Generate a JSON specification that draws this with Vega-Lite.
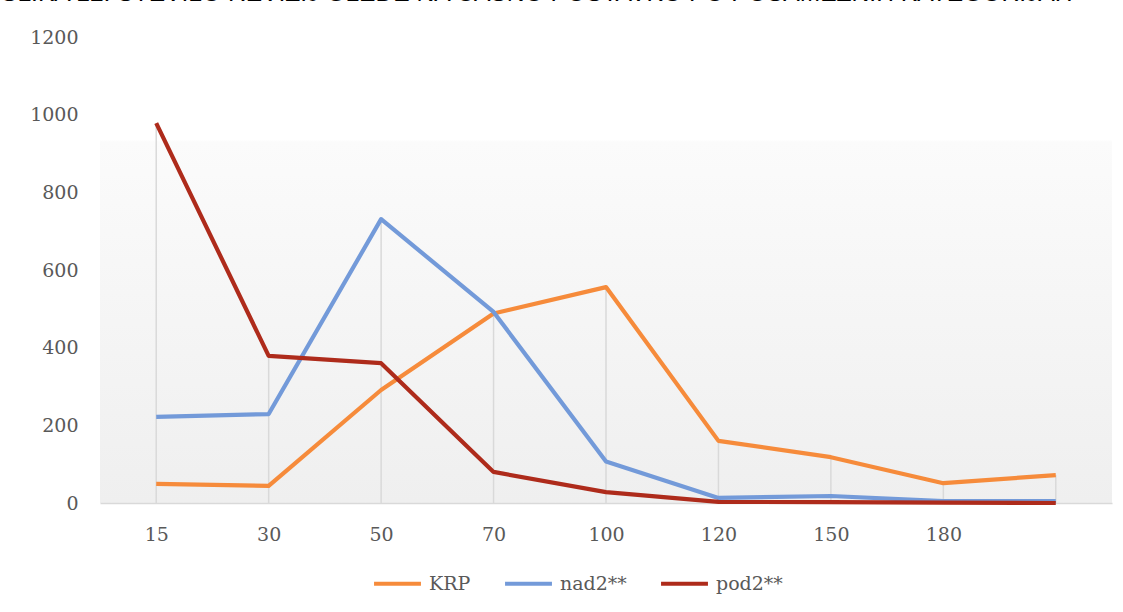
{
  "$schema": "https://vega.github.io/schema/vega-lite/v6.json",
  "autosize": "none",
  "width": 1012,
  "height": 466,
  "padding": {"left": 100, "top": 37, "right": 11, "bottom": 109},
  "background": "white",
  "title": {
    "text": "SLIKA 12: ŠTEVILO REVIZIJ GLEDE NA ČASNO POSTAVKO PO POSAMEZNIH KATEGORIJAH",
    "anchor": "start",
    "frame": "group",
    "font": "Liberation Sans",
    "fontSize": 24.6,
    "fontWeight": "normal",
    "color": "#000000",
    "baseline": "alphabetic",
    "offset": 0,
    "dx": -99,
    "dy": -2
  },
  "data": {
    "values": [
      {"k": "15", "s": "KRP", "v": 49},
      {"k": "30", "s": "KRP", "v": 44},
      {"k": "50", "s": "KRP", "v": 291},
      {"k": "70", "s": "KRP", "v": 488},
      {"k": "100", "s": "KRP", "v": 556},
      {"k": "120", "s": "KRP", "v": 160},
      {"k": "150", "s": "KRP", "v": 118},
      {"k": "180", "s": "KRP", "v": 51},
      {"k": " ", "s": "KRP", "v": 72},
      {"k": "15", "s": "nad2**", "v": 222},
      {"k": "30", "s": "nad2**", "v": 229},
      {"k": "50", "s": "nad2**", "v": 731},
      {"k": "70", "s": "nad2**", "v": 492},
      {"k": "100", "s": "nad2**", "v": 107},
      {"k": "120", "s": "nad2**", "v": 13},
      {"k": "150", "s": "nad2**", "v": 18},
      {"k": "180", "s": "nad2**", "v": 5},
      {"k": " ", "s": "nad2**", "v": 5},
      {"k": "15", "s": "pod2**", "v": 978},
      {"k": "30", "s": "pod2**", "v": 379},
      {"k": "50", "s": "pod2**", "v": 360},
      {"k": "70", "s": "pod2**", "v": 80},
      {"k": "100", "s": "pod2**", "v": 28},
      {"k": "120", "s": "pod2**", "v": 3},
      {"k": "150", "s": "pod2**", "v": 2},
      {"k": "180", "s": "pod2**", "v": 1},
      {"k": " ", "s": "pod2**", "v": 0}
    ]
  },
  "encoding": {
    "x": {
      "field": "k",
      "type": "nominal",
      "sort": null,
      "scale": {"type": "point", "padding": 0.5},
      "axis": {
        "title": null,
        "labelAngle": 0,
        "ticks": false,
        "domainColor": "#d9d9d9",
        "domainWidth": 1.5,
        "labelPadding": 22,
        "grid": false
      }
    }
  },
  "layer": [
    {
      "transform": [
        {"aggregate": [{"op": "max", "field": "v", "as": "top"}], "groupby": ["k"]}
      ],
      "mark": {"type": "rule", "color": "#d9d9d9", "strokeWidth": 1.5},
      "encoding": {
        "y": {"field": "top", "type": "quantitative"},
        "y2": {"datum": 0}
      }
    },
    {
      "mark": {"type": "line", "strokeWidth": 4.2, "strokeJoin": "round", "strokeCap": "butt"},
      "encoding": {
        "y": {
          "field": "v",
          "type": "quantitative",
          "scale": {"domain": [0, 1200], "nice": false},
          "axis": {
            "title": null,
            "values": [0, 200, 400, 600, 800, 1000, 1200],
            "format": "d",
            "domain": false,
            "ticks": false,
            "grid": false,
            "labelPadding": 22
          }
        },
        "color": {
          "field": "s",
          "type": "nominal",
          "scale": {
            "domain": ["KRP", "nad2**", "pod2**"],
            "range": ["#f68b3b", "#739ad9", "#ae2b1b"]
          },
          "legend": {
            "title": null,
            "orient": "none",
            "direction": "horizontal",
            "legendX": 272,
            "legendY": 521,
            "symbolType": "stroke",
            "symbolSize": 2200,
            "symbolStrokeWidth": 4,
            "labelOffset": 6,
            "columnPadding": 26
          }
        }
      }
    }
  ],
  "config": {
    "view": {
      "stroke": null,
      "fill": {
        "gradient": "linear",
        "x1": 0, "y1": 0, "x2": 0, "y2": 1,
        "stops": [
          {"offset": 0, "color": "#ffffff"},
          {"offset": 0.22, "color": "#ffffff"},
          {"offset": 0.225, "color": "#fbfbfb"},
          {"offset": 1, "color": "#efefef"}
        ]
      }
    },
    "axis": {
      "labelFont": "DejaVu Serif",
      "labelFontSize": 19,
      "labelColor": "#595959"
    },
    "legend": {
      "labelFont": "DejaVu Serif",
      "labelFontSize": 19,
      "labelColor": "#595959"
    }
  }
}
